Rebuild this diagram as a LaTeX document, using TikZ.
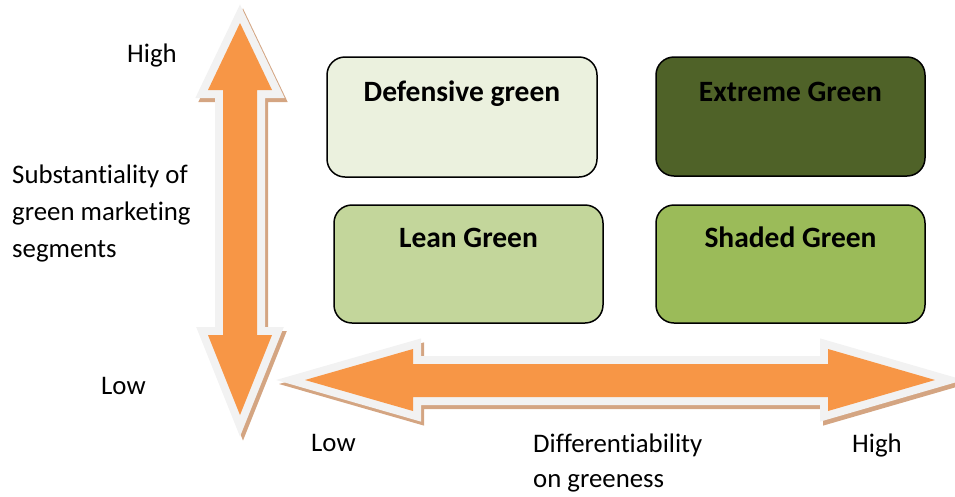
\documentclass[tikz,border=0pt]{standalone}
\usepackage{fontspec}
\setmainfont{Carlito}[Ligatures={NoCommon}]
\usetikzlibrary{calc}
\definecolor{arroworange}{HTML}{F79646}
\definecolor{bordergray}{HTML}{F2F2F2}
\definecolor{shadowbrown}{RGB}{212,165,130}
\definecolor{defcol}{HTML}{EBF1DE}
\definecolor{extcol}{HTML}{4F6228}
\definecolor{leancol}{HTML}{C3D69B}
\definecolor{shadecol}{HTML}{9BBB59}
\begin{document}
\begin{tikzpicture}[x=1pt,y=-1pt,
  bigarrow/.style={fill=arroworange, line join=miter,
    preaction={draw=shadowbrown, fill=shadowbrown, line width=16pt, line join=miter, transform canvas={shift={(3,4)}}},
    preaction={draw=bordergray, line width=16pt, line join=miter}},
  box/.style={draw=black, line width=1.5pt, rounded corners=18pt, inner sep=0pt},
  boxtext/.style={font=\fontsize{29.5}{34}\selectfont\bfseries, anchor=base, inner sep=0pt},
  lbl/.style={font=\fontsize{26.8}{32}\selectfont, anchor=base west, inner sep=0pt}]
\useasboundingbox (0,0) rectangle (955,496);

% vertical arrow
\path[bigarrow] (240,23) -- (272,90) -- (257,90) -- (257,335) -- (272,335) -- (240,415)
  -- (208,335) -- (223,335) -- (223,90) -- (208,90) -- cycle;
% horizontal arrow
\path[bigarrow] (305,380) -- (413,349) -- (413,364) -- (828,364) -- (828,349) -- (935,380)
  -- (828,411) -- (828,397) -- (413,397) -- (413,411) -- cycle;

% boxes
\node[box, fill=defcol, minimum width=270pt, minimum height=120pt] (def) at (462,117) {};
\node[box, fill=extcol, minimum width=269pt, minimum height=119pt] (ext) at (790.5,116.5) {};
\node[box, fill=leancol, minimum width=269pt, minimum height=118pt] (lean) at (468.5,264) {};
\node[box, fill=shadecol, minimum width=269pt, minimum height=118pt] (shade) at (790.5,264) {};

\node[boxtext] (deft) at ($(def.north)+(0,45)$) {Defensive green};
\node[boxtext] (extt) at ($(ext.north)+(0,45)$) {Extreme Green};
\node[boxtext] (leant) at ($(lean.north)+(0,43)$) {Lean Green};
\node[boxtext] (shadet) at ($(shade.north)+(0,43)$) {Shaded Green};

% labels
\node[lbl] (yhigh) at (127,62) {High};
\node[lbl] (ylow) at (101,394) {Low};
\node[lbl] (sub1) at (12,183) {Substantiality of};
\node[lbl] (sub2) at (12,220) {green marketing};
\node[lbl] (sub3) at (12,257) {segments};
\node[lbl] (xlow) at (311,451) {Low};
\node[lbl] (diff1) at (533,452) {Differentiability};
\node[lbl] (diff2) at (533,487) {on greeness};
\node[lbl] (xhigh) at (852,452) {High};
\end{tikzpicture}
\end{document}
